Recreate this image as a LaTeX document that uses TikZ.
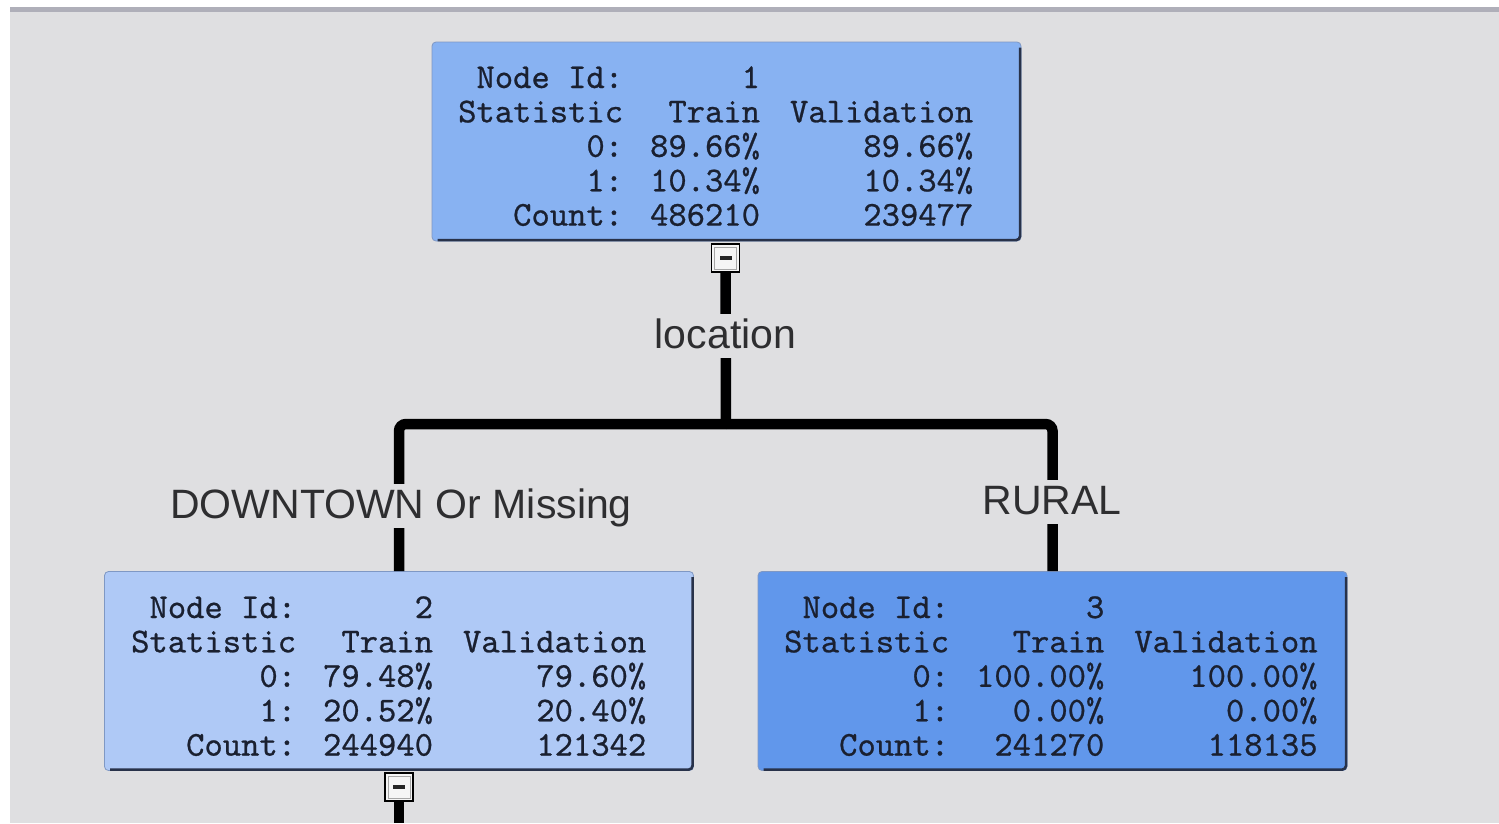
\documentclass[tikz,border=0pt]{standalone}
\usepackage{fontspec}
\newfontfamily\splitfont{Liberation Sans}
\newfontfamily\statfont[FakeBold=0.7]{lmmono10-regular.otf}
\definecolor{canvas}{HTML}{DFDFE1}
\definecolor{topbar}{HTML}{AFAFB9}
\definecolor{rootfill}{HTML}{88B2F2}
\definecolor{leftfill}{HTML}{AFC9F6}
\definecolor{rightfill}{HTML}{6197EB}
\definecolor{stattext}{HTML}{1A2030}
\definecolor{edgedark}{HTML}{28324A}
\definecolor{edgelight}{HTML}{7F98C4}
\definecolor{splittext}{HTML}{2E2E30}
\tikzset{
  treenode/.style={rectangle, rounded corners=4pt, draw=edgelight, line width=0.8pt,
    minimum width=589pt, minimum height=199pt, inner sep=0pt},
  nodeedge/.style={draw=edgedark, line width=2.6pt, rounded corners=4pt},
  stats/.style={anchor=base west, inner sep=0pt, text=stattext,
    font=\statfont\fontsize{34.9}{34.3}\selectfont},
  toggle/.style={rectangle, draw=black, line width=1.4pt, fill=white!96!black,
    minimum size=28pt, inner sep=0pt,
    path picture={
      \draw[black!35, line width=1pt]
        ([shift={(-11pt,-11pt)}]path picture bounding box.center) rectangle
        ([shift={(11pt,11pt)}]path picture bounding box.center);
      \fill[black!85]
        ([shift={(-6pt,-1.6pt)}]path picture bounding box.center) rectangle
        ([shift={(6pt,1.6pt)}]path picture bounding box.center);}},
  branch/.style={draw=black, line width=10.5pt},
  splitlabel/.style={fill=canvas, text=splittext, font=\splitfont\fontsize{41}{45}\selectfont,
    anchor=base, inner xsep=3pt, inner ysep=2pt, text height=32pt, text depth=8pt}
}
\newcommand{\statrows}[6]{%
  \begin{tabular}[t]{@{}r@{\hspace{27pt}}r@{\hspace{30pt}}r@{}}
  Node Id: & #1 & \\
  Statistic & Train & Validation\\
  0: & #2 & #3\\
  1: & #4 & #5\\
  Count: & #6
  \end{tabular}}
\begin{document}
\begin{tikzpicture}[x=1pt, y=-1pt]
  % page, canvas and top rule
  \fill[white] (0,0) rectangle (1499,823);
  \fill[canvas] (10,7) rectangle (1499,823);
  \fill[topbar] (10,7) rectangle (1499,12);
  \useasboundingbox (0,0) rectangle (1499,823);

  % tree nodes
  \node[treenode, fill=rootfill]  (n1) at (726.5,141.5) {};
  \node[treenode, fill=leftfill]  (n2) at (399,671) {};
  \node[treenode, fill=rightfill] (n3) at (1052.5,671) {};
  \foreach \n in {n1,n2,n3}{
    \draw[nodeedge] ([shift={(-1.3pt,-6pt)}]\n.north east) -- ([shift={(-1.3pt,1.3pt)}]\n.south east)
      -- ([shift={(6pt,1.3pt)}]\n.south west);
  }

  % statistics tables
  \node[stats] (s1) at (458,88)  {\statrows{1}{89.66\%}{89.66\%}{10.34\%}{10.34\%}{486210 & 239477}};
  \node[stats] (s2) at (131,618) {\statrows{2}{79.48\%}{79.60\%}{20.52\%}{20.40\%}{244940 & 121342}};
  \node[stats] (s3) at (784,618) {\statrows{3}{100.00\%}{100.00\%}{0.00\%}{0.00\%}{241270 & 118135}};

  % collapse toggles
  \node[toggle] (t1) at (725.5,258) {};
  \node[toggle] (t2) at (399,787) {};

  % branches
  \coordinate (split) at (726,424);
  \coordinate (more) at (399,823);
  \draw[branch] (t1.south) -- (split);
  \draw[branch, rounded corners=7pt] (n2.north) |- (split);
  \draw[branch, rounded corners=7pt] (n3.north) |- (split);
  \draw[branch] (t2.south) -- (more);

  % split labels
  \node[splitlabel] (lloc)   at (725.5,348) {location};
  \node[splitlabel] (ldown)  at (401,518)   {DOWNTOWN Or Missing};
  \node[splitlabel] (lrural) at (1052,514)  {RURAL};
\end{tikzpicture}
\end{document}
